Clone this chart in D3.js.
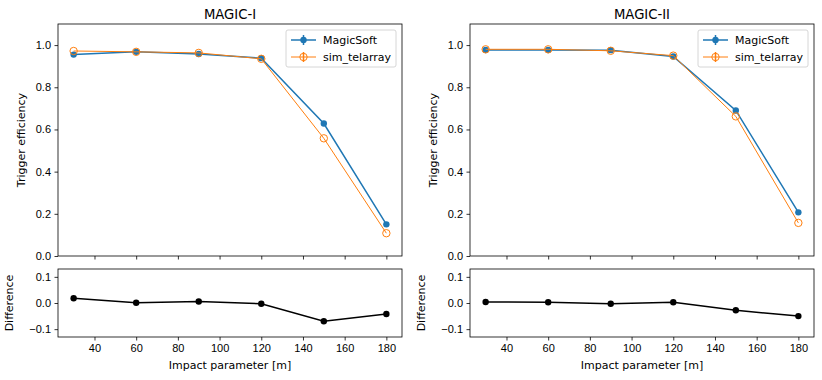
<!DOCTYPE html>
<html>
<head>
<meta charset="utf-8">
<script src="https://cdn.jsdelivr.net/npm/d3@7"></script>
<style>
  body { margin: 0; background: #fff; }
  svg { font-family: 'DejaVu Sans', sans-serif; }
  .axis text { font-size: 11px; fill: #000; }
  .axis path, .axis line { stroke: #000; stroke-width: 0.8; }
</style>
</head>
<body>
<div id="canvas"></div>
<script>
// Data
var impact = [30, 60, 90, 120, 150, 180];
var titles = ['MAGIC-I', 'MAGIC-II'];
var magicSoft1 = [0.955, 0.968, 0.958, 0.938, 0.628, 0.150];
var simTel1    = [0.972, 0.968, 0.963, 0.935, 0.558, 0.108];
var diff1      = [0.018, 0.001, 0.006, -0.003, -0.070, -0.042];
var magicSoft2 = [0.977, 0.977, 0.976, 0.946, 0.690, 0.207];
var simTel2    = [0.980, 0.980, 0.973, 0.950, 0.662, 0.157];
var diff2      = [0.004, 0.003, -0.003, 0.003, -0.028, -0.050];
var effTicks = [0, 0.2, 0.4, 0.6, 0.8, 1.0];
var diffTicks = [-0.1, 0, 0.1];
var xTicks = [40, 60, 80, 100, 120, 140, 160, 180];
var legendNames = ['MagicSoft', 'sim_telarray'];

var blue = '#1f77b4', orange = '#ff7f0e';

var svg = d3.select('#canvas')
  .append('svg')
  .attr('width', 822)
  .attr('height', 380);

var panels = [
  {l: 58, r: 402, title: titles[0], ms: magicSoft1, st: simTel1, diff: diff1},
  {l: 470, r: 814, title: titles[1], ms: magicSoft2, st: simTel2, diff: diff2}
];

var topT = 24, topB = 256, botT = 269, botB = 337;

panels.forEach(function(p){
  var x = d3.scaleLinear().domain([22.5, 187.5]).range([p.l, p.r]);
  var yTop = d3.scaleLinear().domain([0, 1.1]).range([topB, topT]);
  var yBot = d3.scaleLinear().domain([-0.13, 0.13]).range([botB, botT]);

  // title
  svg.append('text')
    .attr('x', (p.l + p.r) / 2)
    .attr('y', 19)
    .attr('text-anchor', 'middle')
    .style('font-size', '13.2px')
    .text(p.title);

  // top axes
  svg.append('g').attr('class', 'axis')
    .attr('transform', 'translate(0,' + topB + ')')
    .call(d3.axisBottom(x).tickValues(xTicks).tickSize(3.5).tickFormat(''));
  svg.append('g').attr('class', 'axis')
    .attr('transform', 'translate(' + p.l + ',0)')
    .call(d3.axisLeft(yTop).tickValues(effTicks).tickSize(3.5).tickPadding(3.5).tickFormat(d3.format('.1f')));

  svg.append('text')
    .attr('transform', 'translate(' + (p.l - 33) + ',' + ((topT + topB) / 2) + ') rotate(-90)')
    .attr('text-anchor', 'middle')
    .style('font-size', '11px')
    .text('Trigger efficiency');

  var line = d3.line()
    .x(function(d, i){ return x(impact[i]); })
    .y(function(d){ return yTop(d); });

  // MagicSoft
  svg.append('path').datum(p.ms)
    .attr('d', line)
    .attr('fill', 'none')
    .attr('stroke', blue)
    .attr('stroke-width', 1.5);
  svg.selectAll(null).data(p.ms).enter()
    .append('circle')
    .attr('cx', function(d, i){ return x(impact[i]); })
    .attr('cy', function(d){ return yTop(d); })
    .attr('r', 3.2)
    .attr('fill', blue);

  // sim_telarray
  svg.append('path').datum(p.st)
    .attr('d', line)
    .attr('fill', 'none')
    .attr('stroke', orange)
    .attr('stroke-width', 1);
  svg.selectAll(null).data(p.st).enter()
    .append('circle')
    .attr('cx', function(d, i){ return x(impact[i]); })
    .attr('cy', function(d){ return yTop(d); })
    .attr('r', 3.7)
    .attr('fill', 'none')
    .attr('stroke', orange)
    .attr('stroke-width', 1);

  // frame
  svg.append('rect')
    .attr('x', p.l).attr('y', topT)
    .attr('width', p.r - p.l).attr('height', topB - topT)
    .attr('fill', 'none').attr('stroke', '#000').attr('stroke-width', 0.8);

  // legend
  var lg = svg.append('g').attr('transform', 'translate(' + (p.r - 116) + ',' + (topT + 6) + ')');
  lg.append('rect')
    .attr('width', 110).attr('height', 37).attr('rx', 2)
    .attr('fill', '#fff').attr('fill-opacity', 0.8)
    .attr('stroke', '#ccc').attr('stroke-width', 0.8);
  legendNames.forEach(function(name, i){
    var yy = 10 + i * 17;
    var c = i === 0 ? blue : orange;
    lg.append('line')
      .attr('x1', 5).attr('x2', 30).attr('y1', yy).attr('y2', yy)
      .attr('stroke', c).attr('stroke-width', i === 0 ? 1.5 : 1);
    lg.append('line')
      .attr('x1', 17.5).attr('x2', 17.5).attr('y1', yy - 5).attr('y2', yy + 5)
      .attr('stroke', c).attr('stroke-width', 1.5);
    lg.append('circle')
      .attr('cx', 17.5).attr('cy', yy).attr('r', i === 0 ? 3.2 : 3.7)
      .attr('fill', i === 0 ? c : 'none')
      .attr('stroke', i === 0 ? 'none' : c);
    lg.append('text')
      .attr('x', 37).attr('y', yy + 4)
      .style('font-size', '11px')
      .text(name);
  });

  // bottom axes
  svg.append('g').attr('class', 'axis')
    .attr('transform', 'translate(0,' + botB + ')')
    .call(d3.axisBottom(x).tickValues(xTicks).tickSize(3.5).tickPadding(3.5));
  svg.append('g').attr('class', 'axis')
    .attr('transform', 'translate(' + p.l + ',0)')
    .call(d3.axisLeft(yBot).tickValues(diffTicks).tickSize(3.5).tickPadding(3.5)
      .tickFormat(function(d){ return d3.format('.1f')(d).replace('-', '\u2212'); }));

  svg.append('text')
    .attr('transform', 'translate(' + (p.l - 45) + ',' + ((botT + botB) / 2) + ') rotate(-90)')
    .attr('text-anchor', 'middle')
    .style('font-size', '11px')
    .text('Difference');

  svg.append('text')
    .attr('x', (p.l + p.r) / 2)
    .attr('y', 369)
    .attr('text-anchor', 'middle')
    .style('font-size', '11px')
    .text('Impact parameter [m]');

  var dline = d3.line()
    .x(function(d, i){ return x(impact[i]); })
    .y(function(d){ return yBot(d); });
  svg.append('path').datum(p.diff)
    .attr('d', dline)
    .attr('fill', 'none')
    .attr('stroke', '#000')
    .attr('stroke-width', 1.5);
  svg.selectAll(null).data(p.diff).enter()
    .append('circle')
    .attr('cx', function(d, i){ return x(impact[i]); })
    .attr('cy', function(d){ return yBot(d); })
    .attr('r', 3.2)
    .attr('fill', '#000');

  svg.append('rect')
    .attr('x', p.l).attr('y', botT)
    .attr('width', p.r - p.l).attr('height', botB - botT)
    .attr('fill', 'none').attr('stroke', '#000').attr('stroke-width', 0.8);
});

svg.selectAll('.axis .domain').remove();
</script>
</body>
</html>
